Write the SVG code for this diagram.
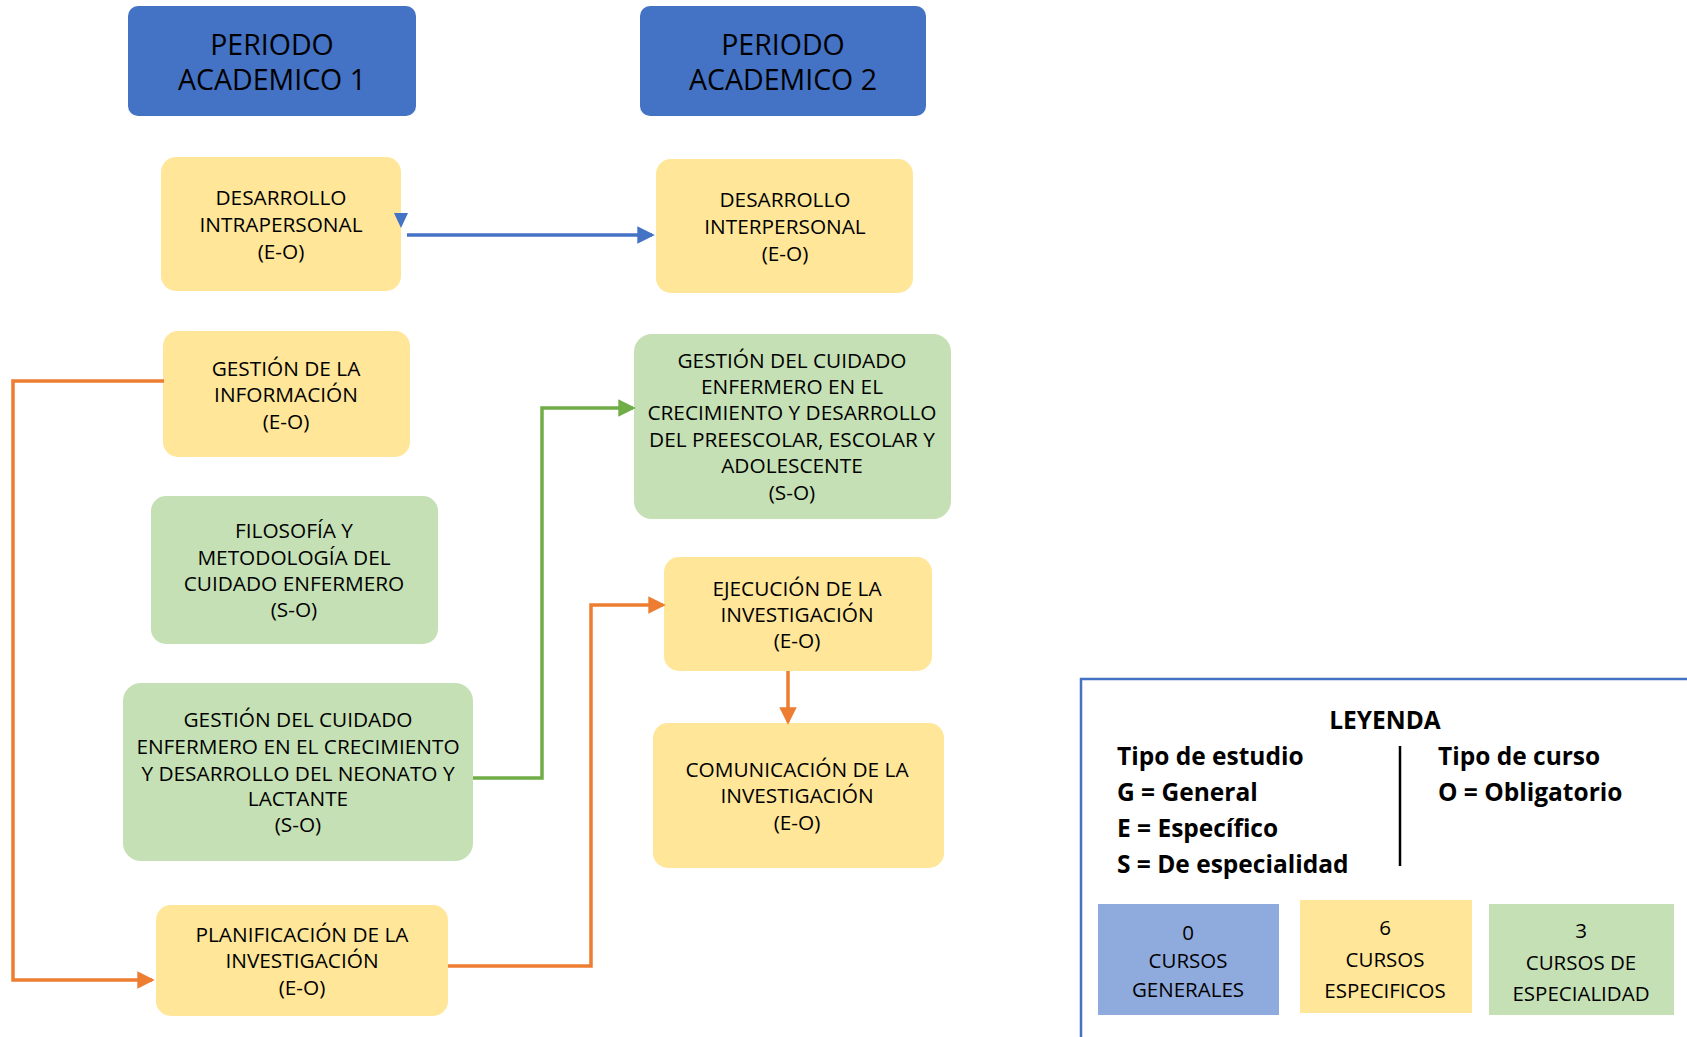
<svg xmlns="http://www.w3.org/2000/svg" width="1687" height="1037" viewBox="0 0 1687 1037">
<style>
text{font-family:"Open Sans","Liberation Sans",sans-serif;fill:#000;text-anchor:middle;dominant-baseline:central}
.hdr{fill:#4472C4}
.hdr-t{font-size:28.5px}
.y{fill:#FFE699}
.g{fill:#C5E0B4}
.t{font-size:20.8px}
.ln{fill:none;stroke-width:3.5}
.o{stroke:#ED7D31}
.gr{stroke:#70AD47}
.b{stroke:#4472C4}
.lg{font-size:24.5px;font-weight:bold;text-anchor:start}
.lb{font-size:20.5px}
</style>
<defs>
<marker id="ao" markerWidth="5" markerHeight="5" refX="4.2" refY="2.5" orient="auto" markerUnits="strokeWidth"><path d="M0,0 L5,2.5 L0,5 z" fill="#ED7D31"/></marker>
<marker id="ag" markerWidth="5" markerHeight="5" refX="4.2" refY="2.5" orient="auto" markerUnits="strokeWidth"><path d="M0,0 L5,2.5 L0,5 z" fill="#70AD47"/></marker>
<marker id="ab" markerWidth="5" markerHeight="5" refX="4.2" refY="2.5" orient="auto" markerUnits="strokeWidth"><path d="M0,0 L5,2.5 L0,5 z" fill="#4472C4"/></marker>
</defs>
<rect width="1687" height="1037" fill="#fff"/>

<g id="hdr1"><rect class="hdr" x="128" y="6" width="288" height="110" rx="10"/><text class="hdr-t" x="272" y="44">PERIODO</text><text class="hdr-t" x="272" y="79">ACADEMICO 1</text></g>
<g id="hdr2"><rect class="hdr" x="640" y="6" width="286" height="110" rx="10"/><text class="hdr-t" x="783" y="44">PERIODO</text><text class="hdr-t" x="783" y="79">ACADEMICO 2</text></g>

<g id="intra"><rect class="y" x="161" y="157" width="240" height="134" rx="15"/><text class="t" x="281" y="197">DESARROLLO</text><text class="t" x="281" y="224">INTRAPERSONAL</text><text class="t" x="281" y="251">(E-O)</text></g>
<g id="inter"><rect class="y" x="656" y="159" width="257" height="134" rx="15"/><text class="t" x="785" y="199">DESARROLLO</text><text class="t" x="785" y="226">INTERPERSONAL</text><text class="t" x="785" y="253">(E-O)</text></g>
<g id="info"><rect class="y" x="163" y="331" width="247" height="126" rx="15"/><text class="t" x="286" y="368">GESTIÓN DE LA</text><text class="t" x="286" y="394">INFORMACIÓN</text><text class="t" x="286" y="421">(E-O)</text></g>
<g id="filo"><rect class="g" x="151" y="496" width="287" height="148" rx="15"/><text class="t" x="294" y="530">FILOSOFÍA Y</text><text class="t" x="294" y="557">METODOLOGÍA DEL</text><text class="t" x="294" y="583">CUIDADO ENFERMERO</text><text class="t" x="294" y="609">(S-O)</text></g>
<g id="neonato"><rect class="g" x="123" y="683" width="350" height="178" rx="18"/><text class="t" x="298" y="719">GESTIÓN DEL CUIDADO</text><text class="t" x="298" y="746">ENFERMERO EN EL CRECIMIENTO</text><text class="t" x="298" y="773">Y DESARROLLO DEL NEONATO Y</text><text class="t" x="298" y="798">LACTANTE</text><text class="t" x="298" y="824">(S-O)</text></g>
<g id="plan"><rect class="y" x="156" y="905" width="292" height="111" rx="15"/><text class="t" x="302" y="934">PLANIFICACIÓN DE LA</text><text class="t" x="302" y="960">INVESTIGACIÓN</text><text class="t" x="302" y="987">(E-O)</text></g>
<g id="preescolar"><rect class="g" x="634" y="334" width="317" height="185" rx="18"/><text class="t" x="792" y="360">GESTIÓN DEL CUIDADO</text><text class="t" x="792" y="386">ENFERMERO EN EL</text><text class="t" x="792" y="412">CRECIMIENTO Y DESARROLLO</text><text class="t" x="792" y="439">DEL PREESCOLAR, ESCOLAR Y</text><text class="t" x="792" y="465">ADOLESCENTE</text><text class="t" x="792" y="492">(S-O)</text></g>
<g id="ejec"><rect class="y" x="664" y="557" width="268" height="114" rx="15"/><text class="t" x="797" y="588">EJECUCIÓN DE LA</text><text class="t" x="797" y="614">INVESTIGACIÓN</text><text class="t" x="797" y="640">(E-O)</text></g>
<g id="comu"><rect class="y" x="653" y="723" width="291" height="145" rx="15"/><text class="t" x="797" y="769">COMUNICACIÓN DE LA</text><text class="t" x="797" y="795">INVESTIGACIÓN</text><text class="t" x="797" y="822">(E-O)</text></g>

<g id="connectors">
<polygon points="394,213 408,213 401,228" fill="#4472C4"/>
<path class="ln b" d="M407,235 H652" marker-end="url(#ab)"/>
<path class="ln o" d="M164,381 H13 V980 H152" marker-end="url(#ao)"/>
<path class="ln gr" d="M473,778 H542 V408 H633" marker-end="url(#ag)"/>
<path class="ln o" d="M448,966 H591 V605 H663" marker-end="url(#ao)"/>
<path class="ln o" d="M788,671 V722" marker-end="url(#ao)"/>
</g>

<g id="legend">
<rect x="1081" y="679" width="620" height="400" fill="#fff" stroke="#4472C4" stroke-width="2.5"/>
<text x="1385" y="719" style="font-size:24.5px;font-weight:bold">LEYENDA</text>
<text class="lg" x="1117" y="755">Tipo de estudio</text>
<text class="lg" x="1117" y="791">G = General</text>
<text class="lg" x="1117" y="827">E = Específico</text>
<text class="lg" x="1117" y="863">S = De especialidad</text>
<text class="lg" x="1438" y="755">Tipo de curso</text>
<text class="lg" x="1438" y="791">O = Obligatorio</text>
<line x1="1400" y1="746" x2="1400" y2="866" stroke="#000" stroke-width="2.5"/>
<g id="leg-gen"><rect x="1098" y="904" width="181" height="111" fill="#8FAADC"/><text class="lb" x="1188" y="932">0</text><text class="lb" x="1188" y="960">CURSOS</text><text class="lb" x="1188" y="989">GENERALES</text></g>
<g id="leg-esp"><rect x="1300" y="900" width="172" height="113" fill="#FFE699"/><text class="lb" x="1385" y="927">6</text><text class="lb" x="1385" y="959">CURSOS</text><text class="lb" x="1385" y="990">ESPECIFICOS</text></g>
<g id="leg-spec"><rect x="1489" y="904" width="185" height="111" fill="#C5E0B4"/><text class="lb" x="1581" y="930">3</text><text class="lb" x="1581" y="962">CURSOS DE</text><text class="lb" x="1581" y="993">ESPECIALIDAD</text></g>
</g>
</svg>
